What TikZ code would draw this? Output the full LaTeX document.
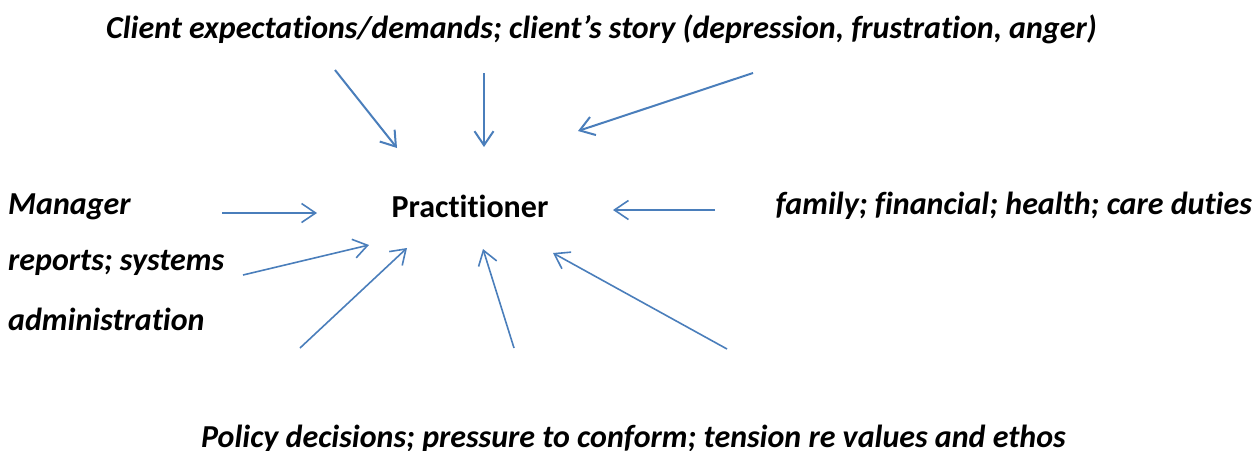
\documentclass[tikz,border=0pt]{standalone}
\usepackage{fontspec}
\setmainfont{Carlito}[Ligatures=NoCommon]
\usetikzlibrary{arrows.meta}
\definecolor{arrowblue}{HTML}{4A7EBB}
\tikzset{
  lbl/.style={font=\fontsize{32}{38}\selectfont\bfseries\itshape, inner sep=0pt, anchor=base west},
  flow/.style={draw=arrowblue, line width=1.6pt, -{Straight Barb[length=14pt,width=19pt]}},
  flowthick/.style={flow, line width=2pt}
}
\begin{document}
\begin{tikzpicture}[x=1pt,y=-1pt]
\useasboundingbox (0,0) rectangle (1255,450);
% texts
\node[lbl, anchor=base] (top) at (601.5,38) {Client expectations/demands; client’s story (depression, frustration, anger)};
\node[font=\fontsize{32}{38}\selectfont\bfseries, inner sep=0pt, anchor=base] (prac) at (470,217) {Practitioner};
\node[lbl] (mgr) at (8,214) {Manager};
\node[lbl] (rep) at (8,270) {reports; systems};
\node[lbl] (adm) at (8,330) {administration};
\node[lbl, anchor=base east] (fam) at (1252,214) {family; financial; health; care duties};
\node[lbl, anchor=base] (pol) at (633.5,447) {Policy decisions; pressure to conform; tension re values and ethos};
% arrow endpoints
\coordinate (a1s) at (335,70);  \coordinate (a1e) at (397,148);
\coordinate (a2s) at (484,73);  \coordinate (a2e) at (484,147);
\coordinate (a3s) at (753,73);  \coordinate (a3e) at (578,131);
\coordinate (a4s) at (222,213); \coordinate (a4e) at (317,213);
\coordinate (a5s) at (243,275); \coordinate (a5e) at (369,245);
\coordinate (a6s) at (300,348); \coordinate (a6e) at (407,248);
\coordinate (a7s) at (514,348); \coordinate (a7e) at (483,249);
\coordinate (a8s) at (727,349); \coordinate (a8e) at (553,253);
\coordinate (a9s) at (715,210); \coordinate (a9e) at (613,210);
\draw[flowthick] (a1s) -- (a1e);
\draw[flowthick] (a2s) -- (a2e);
\draw[flowthick] (a3s) -- (a3e);
\draw[flow] (a4s) -- (a4e);
\draw[flow] (a5s) -- (a5e);
\draw[flow] (a6s) -- (a6e);
\draw[flow] (a7s) -- (a7e);
\draw[flow] (a8s) -- (a8e);
\draw[flow] (a9s) -- (a9e);
\end{tikzpicture}
\end{document}
